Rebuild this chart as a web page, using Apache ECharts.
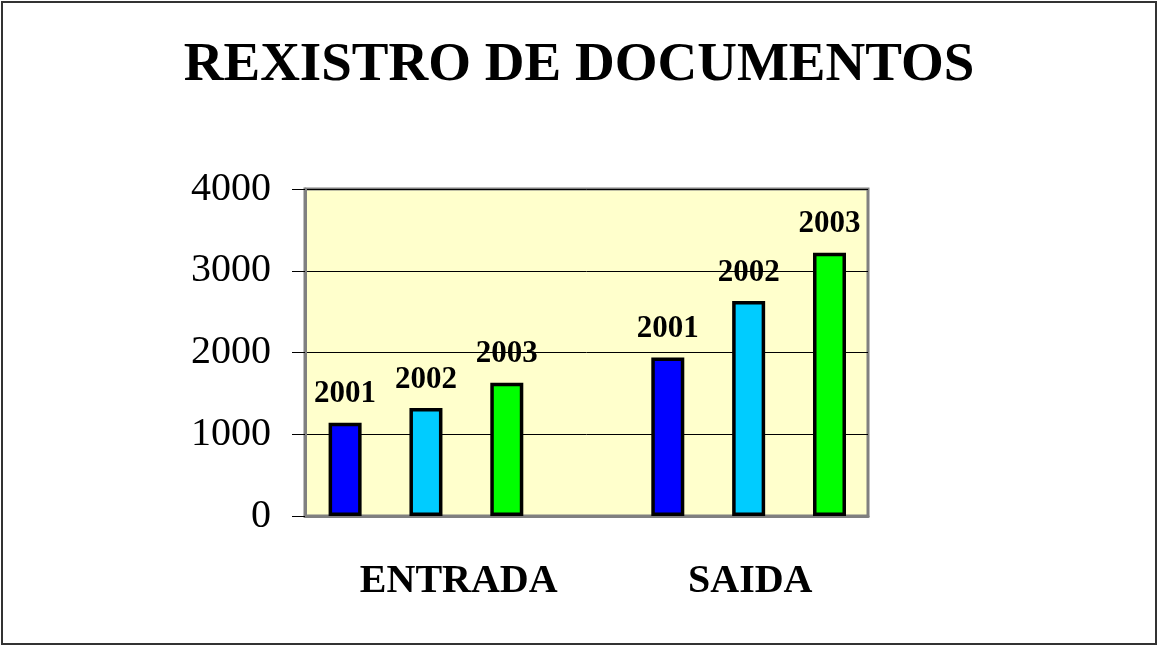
<!DOCTYPE html>
<html>
<head>
<meta charset="utf-8">
<script src="https://cdn.jsdelivr.net/npm/echarts@6/dist/echarts.min.js"></script>
<style>
  html, body { margin: 0; padding: 0; background: #fff; }
  #chart { width: 1158px; height: 646px; }
</style>
</head>
<body>
<div id="chart"></div>
<script>
var categories = ['ENTRADA', 'SAIDA']
var seriesNames = ['2001', '2002', '2003']
var values2001 = [1140, 1940]
var values2002 = [1320, 2630]
var values2003 = [1630, 3220]
var yTicks = [0, 1000, 2000, 3000, 4000]
var colors = ['#0000FF', '#00CCFF', '#00FF00']

var serif = 'Liberation Serif, Times New Roman, serif'
var allValues = [values2001, values2002, values2003]

function makeSeries (i) {
  return {
    name: seriesNames[i],
    type: 'bar',
    xAxisIndex: 1,
    yAxisIndex: 1,
    barWidth: 33,
    barGap: '145%',
    itemStyle: {
      color: colors[i],
      borderColor: '#000',
      borderWidth: 3.5
    },
    label: {
      show: true,
      position: 'top',
      distance: 13,
      formatter: '{a}',
      color: '#000',
      fontFamily: serif,
      fontWeight: 'bold',
      fontSize: 31
    },
    data: allValues[i]
  }
}

var chart = echarts.init(document.getElementById('chart'))
chart.setOption({
  animation: false,
  title: {
    text: 'REXISTRO DE DOCUMENTOS',
    left: 'center',
    top: 33,
    textStyle: {
      fontFamily: serif,
      fontWeight: 'bold',
      fontSize: 55,
      color: '#000'
    }
  },
  graphic: [{
    type: 'rect',
    shape: { x: 2, y: 2, width: 1154, height: 642 },
    style: { fill: 'none', stroke: '#333', lineWidth: 2 },
    silent: true
  }],
  grid: [
    // visible plot frame
    { left: 305, top: 189, width: 563, height: 327, show: true,
      backgroundColor: '#FFFFCC', borderColor: '#808080', borderWidth: 3 },
    // bar placement
    { left: 264.6, top: 189, width: 645.4, height: 327 }
  ],
  xAxis: [
    {
      gridIndex: 0,
      type: 'category',
      data: categories,
      axisLine: { lineStyle: { color: '#808080', width: 3 } },
      axisTick: { show: false },
      axisLabel: {
        margin: 46,
        formatter: function (v) {
          return v === 'ENTRADA' ? '{e|' + v + '}' : '{s|' + v + '}'
        },
        rich: {
          e: { color: '#000', fontFamily: serif, fontWeight: 'bold', fontSize: 40, padding: [0, 0, 0, 26] },
          s: { color: '#000', fontFamily: serif, fontWeight: 'bold', fontSize: 40, padding: [0, 0, 0, 46] }
        }
      }
    },
    { gridIndex: 1, type: 'category', data: categories, show: false }
  ],
  yAxis: [
    {
      gridIndex: 0,
      type: 'value',
      min: yTicks[0],
      max: yTicks[yTicks.length - 1],
      interval: 1000,
      axisLine: { show: true, lineStyle: { color: '#808080', width: 3 } },
      axisTick: { show: true, length: 13, lineStyle: { color: '#000', width: 1 } },
      splitLine: { show: true, lineStyle: { color: '#000', width: 1 } },
      axisLabel: {
        margin: 34,
        formatter: function (v) { return String(v) },
        color: '#000',
        fontFamily: serif,
        fontSize: 40
      }
    },
    { gridIndex: 1, type: 'value', min: 0, max: 4000, show: false }
  ],
  series: [makeSeries(0), makeSeries(1), makeSeries(2)]
})
</script>
</body>
</html>
